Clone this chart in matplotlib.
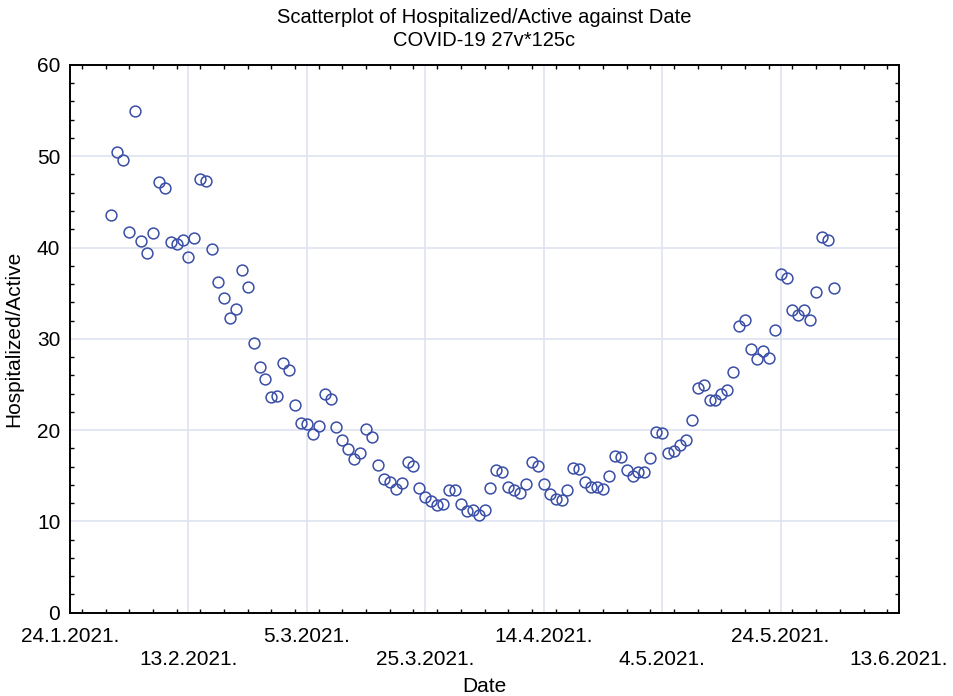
import matplotlib

matplotlib.use("Agg")

import matplotlib.dates as mdates
import matplotlib.pyplot as plt
import pandas as pd
from matplotlib.ticker import MultipleLocator

plt.rcParams["font.family"] = ["Liberation Sans", "DejaVu Sans"]

# one value per day, 31.1.2021 to 1.6.2021
PRIMEIRO_DIA = "2021-01-31"
HOSP_ACTIVE = [
    43.6, 50.5, 49.6, 41.7, 55.0, 40.7, 39.4, 41.6, 47.2, 46.5,
    40.6, 40.4, 40.8, 39.0, 41.0, 47.5, 47.3, 39.8, 36.2, 34.5,
    32.3, 33.3, 37.5, 35.7, 29.5, 26.9, 25.6, 23.6, 23.7, 27.4,
    26.6, 22.8, 20.8, 20.7, 19.6, 20.5, 24.0, 23.4, 20.3, 18.9,
    17.9, 16.8, 17.5, 20.1, 19.2, 16.2, 14.6, 14.3, 13.5, 14.2,
    16.5, 16.1, 13.7, 12.7, 12.2, 11.8, 11.9, 13.4, 13.4, 11.9,
    11.1, 11.2, 10.7, 11.2, 13.7, 15.6, 15.4, 13.8, 13.4, 13.1,
    14.1, 16.5, 16.1, 14.1, 13.0, 12.5, 12.3, 13.4, 15.8, 15.7,
    14.3, 13.8, 13.8, 13.6, 15.0, 17.2, 17.0, 15.6, 15.0, 15.4,
    15.4, 16.9, 19.8, 19.7, 17.5, 17.7, 18.4, 18.9, 21.1, 24.6,
    24.9, 23.3, 23.3, 24.0, 24.4, 26.4, 31.4, 32.1, 28.9, 27.8,
    28.7, 27.9, 31.0, 37.1, 36.7, 33.2, 32.6, 33.2, 32.1, 35.1,
    41.2, 40.8, 35.6,
]

TICKS_DATAS = pd.date_range("2021-01-24", "2021-06-13", freq="20D")

COR_PONTO = "#3a4ea6"
COR_GRADE = "#dfe5f0"


def main():
    datas = pd.date_range(PRIMEIRO_DIA, periods=len(HOSP_ACTIVE), freq="D")

    fig = plt.figure(figsize=(9.54, 6.96), dpi=100)
    ax = fig.add_axes([0.0734, 0.1197, 0.869, 0.787])

    ax.plot(
        datas,
        HOSP_ACTIVE,
        linestyle="none",
        marker="o",
        markersize=7.8,
        markerfacecolor="none",
        markeredgecolor=COR_PONTO,
        markeredgewidth=1.1,
        zorder=3,
    )

    ax.set_xlim(TICKS_DATAS[0], TICKS_DATAS[-1])
    ax.set_ylim(0, 60)

    ax.set_xticks(TICKS_DATAS)
    rotulos = []
    for i, d in enumerate(TICKS_DATAS):
        texto = f"{d.day}.{d.month}.{d.year}."
        rotulos.append(texto if i % 2 == 0 else "\n" + texto)
    ax.set_xticklabels(rotulos, linespacing=1.3)
    ax.xaxis.set_minor_locator(mdates.DayLocator(interval=4))

    ax.yaxis.set_major_locator(MultipleLocator(10))
    ax.yaxis.set_minor_locator(MultipleLocator(2))

    ax.grid(True, which="major", color=COR_GRADE, linewidth=1.3, zorder=0)
    ax.set_axisbelow(True)

    ax.tick_params(
        which="both", direction="in", top=True, right=True,
        labelsize=15, pad=7,
    )
    ax.tick_params(axis="x", which="major", pad=10)
    ax.tick_params(which="major", length=0)
    ax.tick_params(which="minor", length=3, width=1)

    for spine in ax.spines.values():
        spine.set_linewidth(1.4)
        spine.set_color("black")

    ax.set_xlabel("Date", fontsize=15, labelpad=6)
    ax.set_ylabel("Hospitalized/Active", fontsize=15, labelpad=10)

    fig.text(0.5075, 0.975, "Scatterplot of Hospitalized/Active against Date",
             ha="center", va="center", fontsize=14.5)
    fig.text(0.5075, 0.942, "COVID-19 27v*125c", ha="center", va="center",
             fontsize=14.5)

    fig.savefig("out.png", dpi=100)
    plt.close(fig)


if __name__ == "__main__":
    main()
